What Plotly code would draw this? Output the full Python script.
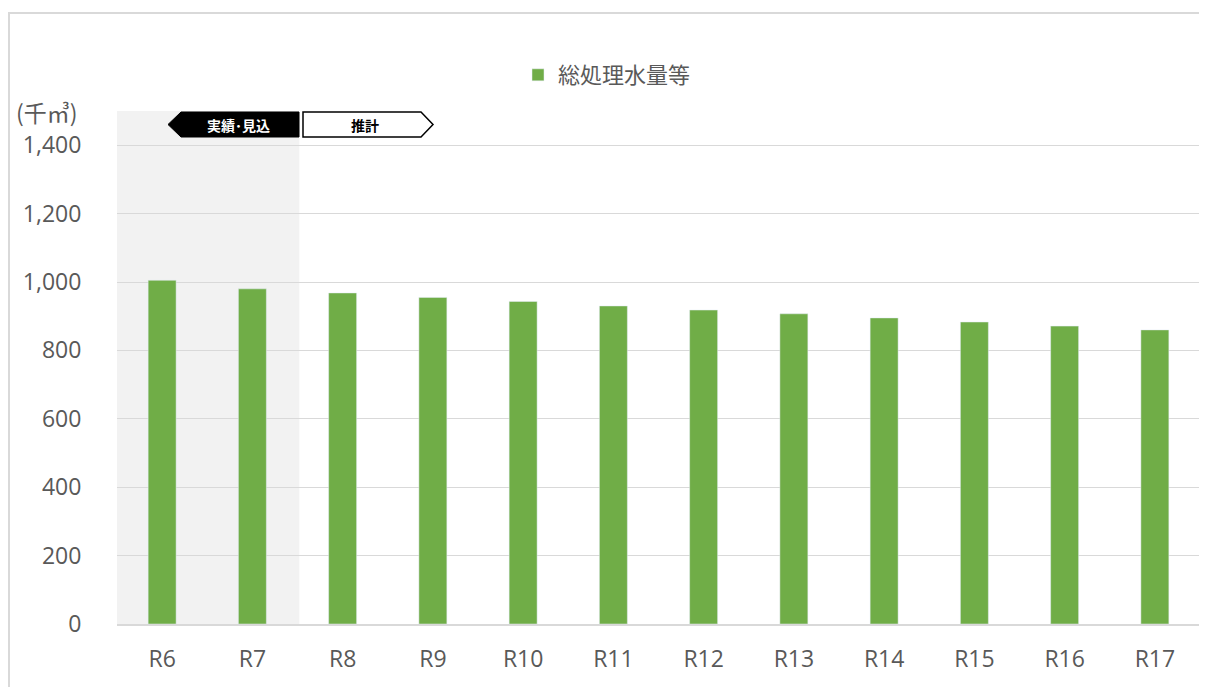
import plotly.graph_objects as go

categories = ["R6", "R7", "R8", "R9", "R10", "R11", "R12", "R13", "R14", "R15", "R16", "R17"]
values = [1005, 980, 968, 955, 943, 930, 918, 907, 895, 883, 871, 860]
series_name = "総処理水量等"
y_ticks = [0, 200, 400, 600, 800, 1000, 1200, 1400]
unit_label = "(千㎥)"
phase_labels = ["実績･見込", "推計"]

# page offset of the figure (default body margin)
OX, OY = 8, 8
W, H = 1199, 679
PL, PT, PR, PB = 117, 111, 1200, 624   # plot area in page pixels
L, T = PL - OX, PT - OY
R = W - (PR - OX)
B = H - (PB - OY)
PW, PH = PR - PL, PB - PT

def px(x):
    return (x - PL) / PW

def py(y):
    return (PB - y) / PH

fig = go.Figure()
fig.add_trace(go.Bar(
    x=categories, y=values, name=series_name,
    marker=dict(color="#70AD47"), width=0.31,
))

shapes = []
shapes.append(dict(type="rect", xref="x", yref="paper", x0=-0.5, x1=1.52, y0=0, y1=1,
                   fillcolor="#F2F2F2", line=dict(width=0), layer="below"))
shapes.append(dict(type="rect", xref="paper", yref="paper", x0=px(9), x1=px(1230), y0=py(13), y1=py(720),
                   fillcolor="rgba(0,0,0,0)", line=dict(color="#D9D9D9", width=2), layer="below"))
pts = [(168, 124.5), (181, 112), (299, 112), (299, 137), (181, 137)]
path = "M " + " L ".join(f"{px(a)},{py(b)}" for a, b in pts) + " Z"
shapes.append(dict(type="path", xref="paper", yref="paper", path=path,
                   fillcolor="#000000", line=dict(color="#000000", width=1)))
pts2 = [(303, 112), (421, 112), (433, 124.5), (421, 137), (303, 137)]
path2 = "M " + " L ".join(f"{px(a)},{py(b)}" for a, b in pts2) + " Z"
shapes.append(dict(type="path", xref="paper", yref="paper", path=path2,
                   fillcolor="#FFFFFF", line=dict(color="#000000", width=1.5)))

annotations = [
    dict(text=phase_labels[0], xref="paper", yref="paper", x=px(238), y=py(125), showarrow=False,
         font=dict(family="Noto Sans CJK JP", size=14, color="#FFFFFF", weight="bold"),
         xanchor="center", yanchor="middle"),
    dict(text=phase_labels[1], xref="paper", yref="paper", x=px(365), y=py(125), showarrow=False,
         font=dict(family="Noto Sans CJK JP", size=14, color="#000000", weight="bold"),
         xanchor="center", yanchor="middle"),
    dict(text=unit_label, xref="paper", yref="paper", x=px(14), y=py(112), showarrow=False,
         font=dict(family="Noto Sans CJK JP", size=23, color="#595959"),
         xanchor="left", yanchor="middle"),
]

fig.update_layout(
    width=W, height=H,
    margin=dict(l=L, r=R, t=T, b=B),
    paper_bgcolor="#FFFFFF", plot_bgcolor="#FFFFFF",
    shapes=shapes, annotations=annotations,
    showlegend=True,
    legend=dict(orientation="h", x=px(518), y=py(75), xanchor="left", yanchor="middle",
                font=dict(family="Noto Sans CJK JP", size=22, color="#595959"),
                bgcolor="rgba(0,0,0,0)"),
    xaxis=dict(showgrid=False, showline=True, linecolor="#D9D9D9", linewidth=1.5,
               ticks="outside", ticklen=14, tickcolor="rgba(0,0,0,0)",
               tickfont=dict(family="Open Sans", size=23, color="#595959"),
               range=[-0.5, 11.5]),
    yaxis=dict(range=[0, 1500], tickvals=y_ticks, tickformat=",",
               showgrid=True, gridcolor="#D9D9D9", gridwidth=1, zeroline=False,
               tickfont=dict(family="Open Sans", size=23, color="#595959"),
               ticks="outside", ticklen=30, tickcolor="rgba(0,0,0,0)"),
)

fig.write_html("out.html")
